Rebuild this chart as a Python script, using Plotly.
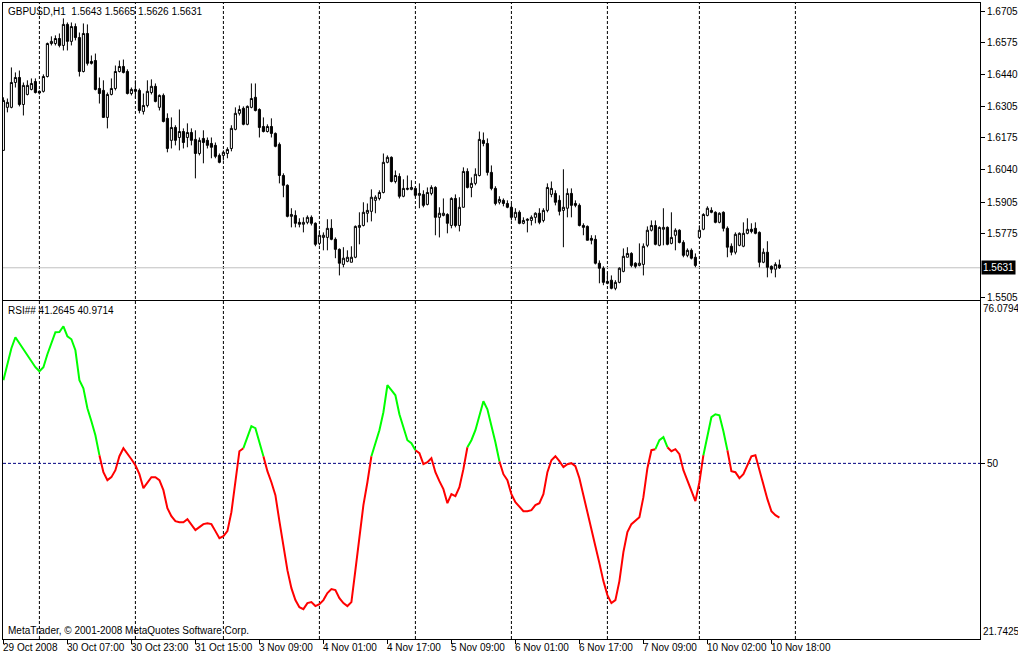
import plotly.graph_objects as go

# ---------------- data ----------------
SYMBOL = "GBPUSD,H1"
OPEN = [1.6122, 1.6302, 1.6302, 1.6406, 1.6427, 1.6314, 1.6356, 1.6377, 1.6410, 1.6369,
        1.6369, 1.6431, 1.6569, 1.6569, 1.6590, 1.6561, 1.6649, 1.6578, 1.6640, 1.6594,
        1.6452, 1.6611, 1.6494, 1.6498, 1.6381, 1.6373, 1.6260, 1.6356, 1.6381, 1.6452,
        1.6473, 1.6452, 1.6360, 1.6377, 1.6373, 1.6285, 1.6310, 1.6364, 1.6390, 1.6302,
        1.6352, 1.6256, 1.6164, 1.6218, 1.6176, 1.6201, 1.6176, 1.6197, 1.6168, 1.6109,
        1.6172, 1.6164, 1.6151, 1.6143, 1.6101, 1.6101, 1.6109, 1.6130, 1.6210, 1.6277,
        1.6298, 1.6231, 1.6302, 1.6344, 1.6293, 1.6222, 1.6201, 1.6222, 1.6193, 1.6147,
        1.6017, 1.5976, 1.5846, 1.5850, 1.5821, 1.5813, 1.5821, 1.5842, 1.5817, 1.5733,
        1.5758, 1.5758, 1.5796, 1.5750, 1.5708, 1.5645, 1.5658, 1.5654, 1.5675, 1.5800,
        1.5808, 1.5859, 1.5867, 1.5913, 1.5921, 1.5946, 1.6072, 1.6093, 1.5992, 1.6013,
        1.5930, 1.5959, 1.5959, 1.5963, 1.5934, 1.5938, 1.5896, 1.5942, 1.5967, 1.5842,
        1.5850, 1.5854, 1.5808, 1.5921, 1.5808, 1.5884, 1.6034, 1.5967, 1.5984, 1.6017,
        1.6164, 1.6151, 1.6030, 1.5963, 1.5905, 1.5913, 1.5900, 1.5884, 1.5842, 1.5863,
        1.5817, 1.5829, 1.5829, 1.5842, 1.5859, 1.5829, 1.5871, 1.5938, 1.5942, 1.5913,
        1.5871, 1.5880, 1.5942, 1.5900, 1.5892, 1.5808, 1.5804, 1.5754, 1.5750, 1.5650,
        1.5629, 1.5574, 1.5579, 1.5545, 1.5570, 1.5616, 1.5675, 1.5691, 1.5650, 1.5641,
        1.5645, 1.5725, 1.5788, 1.5808, 1.5725, 1.5792, 1.5800, 1.5733, 1.5767, 1.5788,
        1.5737, 1.5683, 1.5704, 1.5675, 1.5758, 1.5792, 1.5850, 1.5871, 1.5863, 1.5821,
        1.5863, 1.5796, 1.5721, 1.5696, 1.5725, 1.5721, 1.5775, 1.5792, 1.5796, 1.5779,
        1.5654, 1.5696, 1.5637, 1.5625, 1.5643]
HIGH = [1.6344, 1.6339, 1.6469, 1.6448, 1.6456, 1.6406, 1.6415, 1.6423, 1.6423, 1.6373,
        1.6440, 1.6573, 1.6599, 1.6603, 1.6611, 1.6674, 1.6657, 1.6657, 1.6653, 1.6615,
        1.6653, 1.6649, 1.6519, 1.6527, 1.6427, 1.6415, 1.6364, 1.6423, 1.6477, 1.6498,
        1.6502, 1.6461, 1.6385, 1.6415, 1.6381, 1.6360, 1.6415, 1.6419, 1.6402, 1.6356,
        1.6360, 1.6277, 1.6260, 1.6227, 1.6293, 1.6214, 1.6235, 1.6214, 1.6206, 1.6176,
        1.6206, 1.6176, 1.6176, 1.6155, 1.6109, 1.6122, 1.6135, 1.6227, 1.6302, 1.6310,
        1.6306, 1.6310, 1.6402, 1.6402, 1.6298, 1.6260, 1.6231, 1.6256, 1.6197, 1.6155,
        1.6026, 1.5980, 1.5880, 1.5871, 1.5838, 1.5842, 1.5850, 1.5850, 1.5821, 1.5788,
        1.5779, 1.5834, 1.5834, 1.5758, 1.5712, 1.5717, 1.5704, 1.5721, 1.5808, 1.5863,
        1.5905, 1.5900, 1.5959, 1.5934, 1.5955, 1.6109, 1.6101, 1.6097, 1.6038, 1.6026,
        1.6001, 1.6017, 1.5997, 1.5972, 1.5984, 1.5955, 1.5967, 1.5976, 1.5972, 1.5884,
        1.5921, 1.5859, 1.5926, 1.5938, 1.5926, 1.6051, 1.6047, 1.6009, 1.6047, 1.6201,
        1.6197, 1.6172, 1.6059, 1.5972, 1.5930, 1.5921, 1.5913, 1.5900, 1.5880, 1.5871,
        1.5842, 1.5838, 1.5850, 1.5863, 1.5880, 1.5880, 1.5984, 1.5992, 1.5955, 1.5934,
        1.6043, 1.5963, 1.5963, 1.5913, 1.5900, 1.5817, 1.5808, 1.5767, 1.5767, 1.5662,
        1.5637, 1.5612, 1.5599, 1.5579, 1.5633, 1.5712, 1.5717, 1.5696, 1.5654, 1.5733,
        1.5733, 1.5804, 1.5829, 1.5829, 1.5804, 1.5880, 1.5804, 1.5863, 1.5796, 1.5792,
        1.5746, 1.5712, 1.5712, 1.5691, 1.5808, 1.5859, 1.5888, 1.5884, 1.5867, 1.5863,
        1.5867, 1.5804, 1.5733, 1.5779, 1.5779, 1.5821, 1.5838, 1.5817, 1.5821, 1.5783,
        1.5712, 1.5742, 1.5641, 1.5654, 1.5665]
LOW = [1.6122, 1.6281, 1.6298, 1.6385, 1.6306, 1.6268, 1.6352, 1.6373, 1.6360, 1.6356,
       1.6364, 1.6427, 1.6561, 1.6561, 1.6553, 1.6540, 1.6540, 1.6561, 1.6582, 1.6431,
       1.6448, 1.6477, 1.6481, 1.6373, 1.6318, 1.6260, 1.6214, 1.6352, 1.6373, 1.6448,
       1.6444, 1.6356, 1.6352, 1.6339, 1.6277, 1.6272, 1.6302, 1.6356, 1.6323, 1.6289,
       1.6239, 1.6114, 1.6130, 1.6143, 1.6122, 1.6130, 1.6135, 1.6143, 1.6005, 1.6101,
       1.6068, 1.6130, 1.6089, 1.6089, 1.6068, 1.6080, 1.6089, 1.6118, 1.6206, 1.6268,
       1.6227, 1.6227, 1.6298, 1.6285, 1.6176, 1.6197, 1.6197, 1.6176, 1.6135, 1.5984,
       1.5926, 1.5842, 1.5800, 1.5800, 1.5800, 1.5779, 1.5813, 1.5808, 1.5721, 1.5725,
       1.5704, 1.5704, 1.5746, 1.5671, 1.5599, 1.5633, 1.5654, 1.5654, 1.5671, 1.5729,
       1.5804, 1.5821, 1.5825, 1.5859, 1.5913, 1.5942, 1.6068, 1.5988, 1.5984, 1.5921,
       1.5926, 1.5955, 1.5955, 1.5926, 1.5880, 1.5884, 1.5892, 1.5934, 1.5767, 1.5758,
       1.5846, 1.5775, 1.5796, 1.5800, 1.5783, 1.5884, 1.5963, 1.5926, 1.5976, 1.6013,
       1.6139, 1.6017, 1.5955, 1.5892, 1.5896, 1.5888, 1.5880, 1.5829, 1.5829, 1.5813,
       1.5813, 1.5779, 1.5808, 1.5817, 1.5813, 1.5821, 1.5863, 1.5926, 1.5892, 1.5850,
       1.5717, 1.5842, 1.5842, 1.5884, 1.5804, 1.5767, 1.5746, 1.5729, 1.5645, 1.5566,
       1.5558, 1.5562, 1.5541, 1.5537, 1.5566, 1.5612, 1.5675, 1.5633, 1.5629, 1.5637,
       1.5599, 1.5717, 1.5783, 1.5725, 1.5721, 1.5725, 1.5725, 1.5729, 1.5704, 1.5733,
       1.5675, 1.5675, 1.5666, 1.5633, 1.5754, 1.5788, 1.5846, 1.5859, 1.5817, 1.5817,
       1.5783, 1.5675, 1.5683, 1.5687, 1.5721, 1.5717, 1.5771, 1.5775, 1.5771, 1.5633,
       1.5650, 1.5591, 1.5608, 1.5591, 1.5626]
CLOSE = [1.6331, 1.6323, 1.6406, 1.6427, 1.6314, 1.6394, 1.6394, 1.6402, 1.6364, 1.6362,
         1.6431, 1.6569, 1.6578, 1.6590, 1.6561, 1.6649, 1.6578, 1.6640, 1.6594, 1.6452,
         1.6611, 1.6486, 1.6486, 1.6377, 1.6360, 1.6260, 1.6356, 1.6381, 1.6452, 1.6473,
         1.6448, 1.6360, 1.6377, 1.6369, 1.6289, 1.6310, 1.6369, 1.6390, 1.6327, 1.6352,
         1.6243, 1.6130, 1.6218, 1.6164, 1.6201, 1.6155, 1.6197, 1.6164, 1.6109, 1.6164,
         1.6155, 1.6143, 1.6135, 1.6097, 1.6072, 1.6114, 1.6126, 1.6214, 1.6277, 1.6293,
         1.6231, 1.6306, 1.6339, 1.6289, 1.6218, 1.6201, 1.6222, 1.6193, 1.6139, 1.6017,
         1.5976, 1.5846, 1.5854, 1.5817, 1.5813, 1.5821, 1.5842, 1.5817, 1.5729, 1.5767,
         1.5767, 1.5796, 1.5750, 1.5708, 1.5650, 1.5671, 1.5675, 1.5675, 1.5804, 1.5808,
         1.5863, 1.5871, 1.5926, 1.5926, 1.5946, 1.6072, 1.6093, 1.5992, 1.6017, 1.5930,
         1.5963, 1.5963, 1.5967, 1.5934, 1.5942, 1.5892, 1.5946, 1.5967, 1.5842, 1.5859,
         1.5859, 1.5817, 1.5921, 1.5808, 1.5884, 1.6034, 1.5967, 1.5984, 1.6022, 1.6168,
         1.6151, 1.6030, 1.5963, 1.5900, 1.5917, 1.5900, 1.5884, 1.5842, 1.5863, 1.5817,
         1.5829, 1.5834, 1.5842, 1.5859, 1.5821, 1.5871, 1.5967, 1.5963, 1.5905, 1.5867,
         1.5884, 1.5942, 1.5892, 1.5892, 1.5808, 1.5800, 1.5746, 1.5746, 1.5650, 1.5629,
         1.5570, 1.5566, 1.5545, 1.5570, 1.5629, 1.5679, 1.5691, 1.5641, 1.5637, 1.5650,
         1.5721, 1.5788, 1.5808, 1.5729, 1.5800, 1.5800, 1.5729, 1.5758, 1.5788, 1.5737,
         1.5683, 1.5704, 1.5671, 1.5641, 1.5788, 1.5854, 1.5880, 1.5863, 1.5821, 1.5859,
         1.5796, 1.5717, 1.5696, 1.5771, 1.5775, 1.5775, 1.5792, 1.5783, 1.5775, 1.5654,
         1.5696, 1.5633, 1.5625, 1.5645, 1.5631]

RSI = [63.38, 66.11, 68.52, 70.29, 69.33, 68.36, 67.40, 66.59, 65.47, 64.82,
       65.47, 67.56, 69.49, 71.10, 71.14, 72.06, 70.45, 69.97, 68.20, 63.38,
       62.09, 58.87, 56.78, 54.53, 51.32, 48.58, 47.30, 47.78, 48.90, 51.15,
       52.44, 51.64, 50.67, 49.70, 48.26, 46.01, 46.97, 47.78, 47.78, 47.30,
       45.69, 42.79, 41.51, 40.70, 40.54, 40.54, 41.03, 40.22, 39.26, 39.74,
       40.22, 40.38, 40.22, 39.10, 37.97, 38.29, 39.10, 42.15, 47.30, 51.96,
       52.44, 54.21, 55.98, 55.66, 53.41, 51.15, 48.74, 46.97, 44.88, 40.70,
       36.84, 32.82, 29.93, 28.00, 26.87, 26.55, 27.52, 27.68, 27.04, 27.36,
       28.00, 29.13, 29.77, 29.61, 28.32, 27.52, 27.04, 27.68, 32.82, 38.13,
       43.28, 46.97, 51.15, 53.25, 55.34, 58.23, 62.57, 61.77, 60.96, 57.91,
       55.66, 53.73, 53.25, 52.12, 51.64, 49.87, 50.19, 50.83, 48.58, 47.14,
       45.85, 43.60, 45.05, 44.72, 46.17, 49.07, 52.60, 53.73, 55.34, 57.75,
       60.00, 58.71, 56.14, 53.41, 50.35, 48.26, 47.30, 45.05, 43.76, 43.12,
       42.31, 42.31, 42.47, 43.28, 43.60, 45.05, 48.58, 50.51, 51.15, 50.35,
       49.39, 49.87, 50.03, 49.55, 47.62, 44.88, 41.99, 39.10, 36.68, 33.95,
       31.06, 28.80, 27.52, 28.00, 31.06, 35.72, 38.94, 40.22, 40.86, 41.35,
       44.56, 49.23, 52.12, 52.28, 53.73, 54.21, 52.60, 51.96, 52.28, 51.48,
       48.90, 47.14, 45.69, 43.92, 46.97, 51.32, 54.69, 57.43, 57.91, 57.75,
       55.18, 52.12, 48.74, 48.58, 47.62, 48.26, 49.70, 51.15, 51.32, 48.90,
       46.81, 44.24, 42.31, 41.67, 41.2645]
RSI_SIGNAL_LAST = 40.9714
RSI_GREEN_SEGMENTS = [(0, 24), (60, 65), (92, 103), (116, 124), (163, 166), (175, 181)]
RSI_MAX = 76.0794
RSI_MIN = 21.7425
RSI_LEVEL = 50

DAY_START_BARS = [9, 33, 55, 79, 103, 127, 151, 174, 198]
TIME_LABEL_BARS = [0, 16, 32, 48, 64, 80, 96, 112, 128, 144, 160, 176, 192]
TIME_LABELS = ["29 Oct 2008", "30 Oct 07:00", "30 Oct 23:00", "31 Oct 15:00",
               "3 Nov 09:00", "4 Nov 01:00", "4 Nov 17:00", "5 Nov 09:00",
               "6 Nov 01:00", "6 Nov 17:00", "7 Nov 09:00", "10 Nov 02:00",
               "10 Nov 18:00"]
PRICE_TICKS = [1.6705, 1.6575, 1.6440, 1.6305, 1.6175, 1.6040, 1.5905, 1.5775, 1.5505]
PRICE_RANGE = [1.5498, 1.67385]
X_RANGE = [-0.1, 244.15]
COPYRIGHT = "MetaTrader, \u00a9 2001-2008 MetaQuotes Software Corp."

# ---------------- figure ----------------
FONT = "Liberation Sans, Arial, sans-serif"
bars = list(range(len(CLOSE)))
last = len(CLOSE) - 1

fig = go.Figure()
fig.add_trace(go.Candlestick(
    x=bars, open=OPEN, high=HIGH, low=LOW, close=CLOSE,
    increasing=dict(fillcolor="white", line=dict(color="black", width=1)),
    decreasing=dict(fillcolor="black", line=dict(color="black", width=1)),
    whiskerwidth=0, xaxis="x", yaxis="y", hoverinfo="skip", showlegend=False))

in_green = [any(a <= i <= b for a, b in RSI_GREEN_SEGMENTS) for i in bars]
green_y = [v if in_green[i] else None for i, v in enumerate(RSI)]
red_y = []
for i, v in enumerate(RSI):
    prev_red = i > 0 and not in_green[i - 1]
    next_red = i < last and not in_green[i + 1]
    red_y.append(v if (not in_green[i] or prev_red or next_red) else None)

fig.add_trace(go.Scatter(x=bars, y=red_y, mode="lines", line=dict(color="#ff0000", width=2),
                         xaxis="x2", yaxis="y2", hoverinfo="skip", showlegend=False,
                         connectgaps=False))
fig.add_trace(go.Scatter(x=bars, y=green_y, mode="lines", line=dict(color="#00ff00", width=2),
                         xaxis="x2", yaxis="y2", hoverinfo="skip", showlegend=False,
                         connectgaps=False))

shapes = []
for d in DAY_START_BARS:
    shapes.append(dict(type="line", xref="x", yref="paper", x0=d, x1=d, y0=0, y1=1,
                       line=dict(color="black", width=1, dash="3px,2px"), layer="below"))
shapes.append(dict(type="line", xref="paper", yref="y", x0=0, x1=1,
                   y0=CLOSE[-1], y1=CLOSE[-1], line=dict(color="#c0c0c0", width=1),
                   layer="below"))
shapes.append(dict(type="line", xref="paper", yref="y2", x0=0, x1=1,
                   y0=RSI_LEVEL, y1=RSI_LEVEL,
                   line=dict(color="#000080", width=1, dash="3px,2px"), layer="below"))

ann = []
for b, t in zip(TIME_LABEL_BARS, TIME_LABELS):
    ann.append(dict(x=b, xref="x2", y=0, yref="paper", text=t, showarrow=False,
                    xanchor="left", yanchor="top", xshift=-2, yshift=-1,
                    font=dict(family=FONT, size=10, color="black")))
ann.append(dict(x=0, xref="paper", y=1, yref="paper", xanchor="left", yanchor="top",
                xshift=3, yshift=-1, showarrow=False,
                text=f"{SYMBOL}  {OPEN[-1]:.4f} {HIGH[-1]:.4f} {LOW[-1]:.4f} {CLOSE[-1]:.4f}",
                font=dict(family=FONT, size=10, color="black")))
ann.append(dict(x=0, xref="paper", y=RSI_MAX, yref="y2", xanchor="left", yanchor="top",
                xshift=3, yshift=-2, showarrow=False,
                text=f"RSI## {RSI[-1]:.4f} {RSI_SIGNAL_LAST:.4f}",
                font=dict(family=FONT, size=10, color="black")))
ann.append(dict(x=0, xref="paper", y=RSI_MIN, yref="y2", xanchor="left", yanchor="bottom",
                xshift=3, yshift=1, showarrow=False, text=COPYRIGHT,
                font=dict(family=FONT, size=10, color="black")))
ann.append(dict(x=1, xref="paper", y=RSI_MAX, yref="y2", xanchor="left", yanchor="top",
                xshift=1, yshift=0, showarrow=False, text=f"{RSI_MAX:.4f}",
                font=dict(family=FONT, size=10, color="black")))
ann.append(dict(x=1, xref="paper", y=RSI_MIN, yref="y2", xanchor="left", yanchor="bottom",
                xshift=1, yshift=0, showarrow=False, text=f"{RSI_MIN:.4f}",
                font=dict(family=FONT, size=10, color="black")))
ann.append(dict(x=1, xref="paper", y=CLOSE[-1], yref="y", xanchor="left", yanchor="middle",
                xshift=1, showarrow=False, text=f"{CLOSE[-1]:.4f}", bgcolor="black",
                borderpad=1, font=dict(family=FONT, size=10, color="white")))

axis_common = dict(showline=True, linecolor="black", linewidth=1, mirror=True,
                   showgrid=False, zeroline=False, automargin=False)
fig.update_layout(
    template="none",
    width=1018, height=656, autosize=False,
    margin=dict(l=3, r=38, t=2.5, b=17, pad=0, autoexpand=False),
    paper_bgcolor="white", plot_bgcolor="white",
    showlegend=False, boxgap=0.25,
    font=dict(family=FONT, size=10, color="black"),
    xaxis=dict(domain=[0, 1], anchor="y", range=X_RANGE, showticklabels=False,
               rangeslider=dict(visible=False), ticks="", **axis_common),
    yaxis=dict(domain=[0.5337, 1], anchor="x", range=PRICE_RANGE, side="right",
               tickvals=PRICE_TICKS, ticktext=[f"{v:.4f}" for v in PRICE_TICKS],
               ticks="outside", ticklen=4, tickcolor="black",
               tickfont=dict(family=FONT, size=10, color="black"), **axis_common),
    xaxis2=dict(domain=[0, 1], anchor="y2", range=X_RANGE, matches="x",
                tickvals=TIME_LABEL_BARS, showticklabels=False, ticks="outside",
                ticklen=4, tickcolor="black", **axis_common),
    yaxis2=dict(domain=[0, 0.5310], anchor="x2", range=[RSI_MIN, RSI_MAX], side="right",
                tickvals=[RSI_LEVEL], ticktext=[str(RSI_LEVEL)], ticks="outside",
                ticklen=4, tickcolor="black",
                tickfont=dict(family=FONT, size=10, color="black"), **axis_common),
    shapes=shapes, annotations=ann,
)

fig.write_html("out.html", config={"displayModeBar": False},
               post_script="document.body.style.margin='0';document.body.style.overflow='hidden';")
